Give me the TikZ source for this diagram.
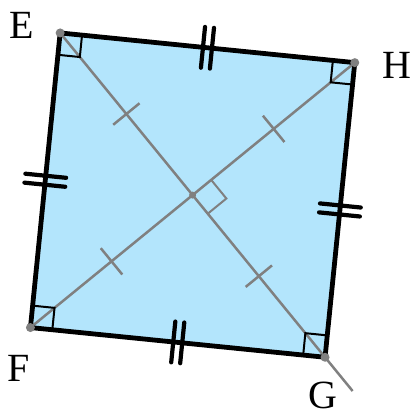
\documentclass[tikz,border=0pt]{standalone}
\usepackage{fontspec}
\setmainfont{Liberation Serif}
\usetikzlibrary{calc}
\definecolor{sqInk}{HTML}{000000}
\definecolor{sqFill}{HTML}{B3E5FC}
\definecolor{sqGray}{HTML}{808080}
\tikzset{
  every picture/.style={font=\fontsize{40}{44}\selectfont, text=sqInk},
  sq side/.style={draw=sqInk, line width=4.8pt, line join=miter},
  sq diag/.style={draw=sqGray, line width=2.5pt},
  sq mark/.style={draw=sqInk, line width=2pt},
  sq gmark/.style={draw=sqGray, line width=2pt},
  sq dot/.style={fill=sqGray},
  sq dtick/.pic={\draw[sqInk, line width=4.2pt, line cap=round]
    (-4.5pt,-20.5pt) -- (-4.5pt,20.5pt) (4.5pt,-20.5pt) -- (4.5pt,20.5pt);},
  sq gtick/.pic={\draw[sqGray, line width=2.5pt] (0pt,-17pt) -- (0pt,17pt);}
}

\begin{document}
\begin{tikzpicture}[x=1pt,y=1pt]
  \useasboundingbox (0,0) rectangle (412,417);
  \coordinate (O) at (192.6,221.9);
  \coordinate (E) at ($(O)+(129.24:209.4)$);
  \coordinate (H) at ($(O)+(39.24:209.4)$);
  \coordinate (G) at ($(O)+(-50.76:209.4)$);
  \coordinate (F) at ($(O)+(-140.76:209.4)$);
  \coordinate (Gx) at ($(E)!1.104!(G)$);
  \fill[sqFill] (E) -- (H) -- (G) -- (F) -- cycle;
  \draw[sq diag] (E) -- (Gx);
  \draw[sq diag] (H) -- (F);
  \foreach \v in {E,H,G,F}
    \path (O) -- (\v) pic[pos=0.5,sloped]{sq gtick};
  \draw[sq gmark] ($(O)!24pt!(H)$) -- ($(O)!24pt!(H)+(O)!24pt!(G)-(O)$) -- ($(O)!24pt!(G)$);
  \foreach \v/\a/\b in {E/H/F,H/G/E,G/F/H,F/E/G}
    \draw[sq mark] ($(\v)!22pt!(\a)$) -- ($(\v)!22pt!(\a)+(\v)!22pt!(\b)-(\v)$) -- ($(\v)!22pt!(\b)$);
  \draw[sq side] (E) -- (H) -- (G) -- (F) -- cycle;
  \foreach \a/\b in {E/H,H/G,G/F,F/E}
    \path (\a) -- (\b) pic[pos=0.5,sloped]{sq dtick};
  \foreach \v in {E,H,G,F}
    \fill[sq dot] (\v) circle[radius=4.5pt];
  \fill[sq dot] (O) circle[radius=3.5pt];
  % vertex labels
  \node (lE) at ($(E)+(-38.4,7.9)$) {E};
  \node (lH) at ($(H)+(41.9,-2.4)$) {H};
  \node (lF) at ($(F)+(-12.1,-40.4)$) {F};
  \node (lG) at ($(G)+(-1.8,-38.5)$) {G};
\end{tikzpicture}
\end{document}
